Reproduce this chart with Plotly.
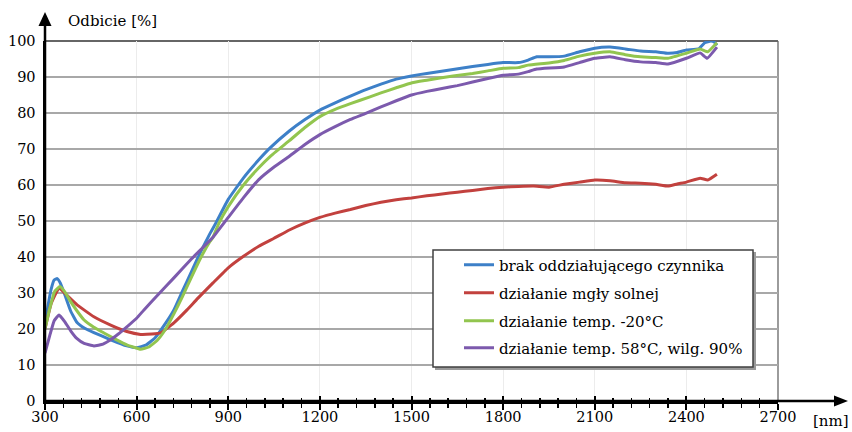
import plotly.graph_objects as go

# ---------------- data ----------------
x_brak = [300, 310, 320, 330, 340, 350, 362, 384, 405, 430, 460, 515, 568, 600, 630, 660, 690,
          722, 750, 780, 810, 840, 860, 900, 950, 1000, 1037, 1100, 1150, 1200, 1250, 1300, 1342,
          1400, 1450, 1500, 1550, 1636, 1700, 1750, 1800, 1850, 1882, 1910, 1950, 2000, 2050,
          2100, 2150, 2200, 2250, 2300, 2340, 2370, 2400, 2440, 2460, 2480, 2490, 2500]
y_brak = [21, 26.5, 31, 33.6, 34, 32.8, 30.2, 25, 21.8, 20.2, 19, 17, 15.3, 14.8, 15.5, 17.5, 21,
          25.3, 30.5, 36, 41.5, 46.5, 49.5, 56, 62, 67, 70.3, 75, 78.1, 80.8, 82.8, 84.7, 86.2,
          88, 89.4, 90.3, 91, 92.1, 92.9, 93.5, 94, 94, 94.7, 95.6, 95.6, 95.8, 97,
          98, 98.3, 97.8, 97.2, 97, 96.6, 96.8, 97.5, 97.8, 99.5, 100, 99.8, 98.8]

x_mgla = [300, 320, 346, 370, 405, 460, 515, 568, 613, 650, 679, 722, 765, 800, 850, 900, 950,
          1000, 1050, 1100, 1150, 1200, 1250, 1300, 1350, 1400, 1450, 1500, 1550, 1600, 1650, 1700,
          1750, 1800, 1850, 1900, 1950, 2000, 2050, 2100, 2150, 2200, 2250, 2300, 2340, 2370, 2400,
          2445, 2470, 2500]
y_mgla = [20, 27, 31.4, 29.5, 26.7, 23.4, 21.1, 19.3, 18.5, 18.6, 18.9, 21.7, 25.3, 28.5, 32.8, 37, 40.2,
          43, 45.2, 47.5, 49.4, 51, 52.2, 53.2, 54.3, 55.2, 55.9, 56.4, 57, 57.5, 58, 58.5,
          59, 59.4, 59.6, 59.7, 59.4, 60.2, 60.8, 61.4, 61.2, 60.6, 60.5, 60.2, 59.7, 60.3, 60.8,
          61.9, 61.4, 63]

x_minus20 = [300, 315, 332, 349, 365, 384, 405, 428, 460, 493, 530, 568, 613, 640, 667, 695, 722,
             750, 780, 810, 840, 850, 870, 900, 950, 1000, 1037, 1100, 1150, 1200, 1250, 1300, 1364,
             1400, 1450, 1502, 1550, 1636, 1700, 1750, 1800, 1850, 1882, 1950, 2000, 2050,
             2100, 2150, 2200, 2250, 2300, 2340, 2400, 2445, 2470, 2500]
y_minus20 = [20, 25.5, 30.5, 31.8, 30.3, 27.6, 25, 22.5, 20.5, 18.9, 17.2, 15.6, 14.4, 15, 16.8, 20, 24.2,
             29, 34.5, 39.8, 44.3, 45.5, 49.5, 54, 60, 64.8, 67.9, 72.3, 75.9, 79, 81, 82.6, 84.5,
             85.6, 87, 88.4, 89.1, 90.3, 91, 91.7, 92.4, 92.6, 93.3, 93.9, 94.6, 95.8,
             96.6, 97, 96.2, 95.6, 95.4, 95.2, 96.6, 97.8, 97, 99.5]

x_58 = [300, 315, 330, 346, 365, 384, 405, 428, 460, 490, 515, 540, 568, 600, 624, 670, 722, 780,
        850, 900, 950, 1000, 1050, 1100, 1150, 1200, 1250, 1300, 1350, 1400, 1450, 1500, 1550, 1600,
        1650, 1700, 1750, 1800, 1850, 1882, 1910, 2000, 2050, 2100, 2150, 2200, 2250, 2300, 2340,
        2400, 2445, 2468, 2500]
y_58 = [13.3, 18, 22.3, 23.9, 22, 19.5, 17.3, 16, 15.3, 15.8, 17, 18.6, 20.6, 23, 25.3, 29.5, 34.2, 39.5,
        45.5, 51, 56.5, 61.5, 65, 68, 71.2, 74, 76.2, 78.2, 79.9, 81.7, 83.4, 85, 86, 86.8,
        87.6, 88.6, 89.6, 90.5, 90.8, 91.5, 92.2, 92.8, 94, 95.2, 95.6, 94.8, 94.2, 94, 93.6,
        95.2, 96.7, 95.2, 98.3]

series_names = ["brak oddziałującego czynnika", "działanie mgły solnej",
                "działanie temp. -20°C", "działanie temp. 58°C, wilg. 90%"]
series_colors = ["#3d80c8", "#c2413e", "#92c54f", "#7c5aad"]
x_ticks = [300, 600, 900, 1200, 1500, 1800, 2100, 2400, 2700]
y_ticks = [0, 10, 20, 30, 40, 50, 60, 70, 80, 90, 100]

FONT = "DejaVu Serif"

# ---------------- layout geometry helpers (pixels -> paper) ----------------
L, T, W, H = 45, 41, 733, 360


def px(p):
    return (p - L) / W


def py(p):
    return (T + H - p) / H


fig = go.Figure()
xs = [x_brak, x_mgla, x_minus20, x_58]
ys = [y_brak, y_mgla, y_minus20, y_58]
legend_ids = ["legend", "legend2", "legend3", "legend4"]
for xv, yv, name, col, lg in zip(xs, ys, series_names, series_colors, legend_ids):
    fig.add_trace(go.Scatter(x=xv, y=yv, name=name, mode="lines",
                             line=dict(color=col, width=3, shape="spline", smoothing=0.35),
                             legend=lg, hoverinfo="skip"))

# dummy trace for the overlaid tick axis
fig.add_trace(go.Scatter(x=[300], y=[0], xaxis="x2", mode="markers",
                         marker=dict(opacity=0), showlegend=False, hoverinfo="skip"))

shapes = []
shapes.append(dict(type="rect", xref="paper", yref="paper", layer="above",
                   x0=px(435), x1=px(756), y0=py(370), y1=py(252),
                   fillcolor="#9a9a9a", line=dict(width=0)))
shapes.append(dict(type="rect", xref="paper", yref="paper", layer="above",
                   x0=px(433), x1=px(753), y0=py(367), y1=py(250),
                   fillcolor="white", line=dict(color="#404040", width=1.5)))
shapes.append(dict(type="line", xref="paper", yref="paper", layer="below",
                   x0=0, x1=1, y0=1, y1=1, line=dict(color="#333333", width=1.5)))
shapes.append(dict(type="line", xref="paper", yref="paper", layer="below",
                   x0=1, x1=1, y0=0, y1=1, line=dict(color="#666666", width=1.3)))
shapes.append(dict(type="line", xref="paper", yref="paper", layer="above",
                   x0=0, x1=px(838), y0=0, y1=0, line=dict(color="black", width=2.5)))
shapes.append(dict(type="path", xref="paper", yref="paper", layer="above",
                   path=f"M{px(848)},{py(401)} L{px(834)},{py(395.5)} L{px(834)},{py(406.5)} Z",
                   fillcolor="black", line=dict(width=0)))
shapes.append(dict(type="line", xref="paper", yref="paper", layer="above",
                   x0=0, x1=0, y0=0, y1=py(24), line=dict(color="black", width=2.5)))
shapes.append(dict(type="path", xref="paper", yref="paper", layer="above",
                   path=f"M{px(45)},{py(12)} L{px(38.5)},{py(26)} L{px(51.5)},{py(26)} Z",
                   fillcolor="black", line=dict(width=0)))

annotations = [
    dict(text="Odbicie [%]", xref="paper", yref="paper", x=px(66), y=py(21),
         xanchor="left", yanchor="middle", showarrow=False,
         font=dict(family=FONT, size=15, color="black")),
    dict(text="[nm]", xref="paper", yref="paper", x=px(831), y=py(421),
         xanchor="center", yanchor="middle", showarrow=False,
         font=dict(family=FONT, size=15, color="black")),
]

legend_rows = [265, 293, 321, 348]
leg_common = dict(xanchor="left", yanchor="middle", bgcolor="rgba(0,0,0,0)", borderwidth=0,
                  font=dict(family=FONT, size=15, color="black"), itemwidth=30,
                  itemclick=False, itemdoubleclick=False)
legends = {}
for lg, row in zip(legend_ids, legend_rows):
    legends[lg] = dict(x=px(459), y=py(row), **leg_common)

fig.update_layout(
    width=852, height=432,
    margin=dict(l=L, r=852 - L - W, t=T, b=432 - T - H, autoexpand=False),
    paper_bgcolor="white", plot_bgcolor="white",
    font=dict(family=FONT, size=14, color="black"),
    xaxis=dict(range=[300, 2700], tickvals=x_ticks, ticktext=[str(v) for v in x_ticks],
               showgrid=True, gridcolor="#ececec", gridwidth=1, automargin=False,
               showline=True, linecolor="black", linewidth=2.5,
               ticks="outside", ticklen=6, tickwidth=2, tickcolor="black",
               ticklabelstandoff=-5,
               minor=dict(dtick=60, tick0=300, ticks="outside", ticklen=4, tickwidth=1.5,
                          tickcolor="black", showgrid=False),
               zeroline=False, fixedrange=True,
               tickfont=dict(family=FONT, size=14.5, color="black")),
    xaxis2=dict(range=[300, 2700], overlaying="x", anchor="y", side="bottom",
                tickvals=x_ticks, showticklabels=False, showgrid=False, showline=False,
                ticks="inside", ticklen=5, tickwidth=2, tickcolor="black", automargin=False,
                minor=dict(dtick=60, tick0=300, ticks="inside", ticklen=3, tickwidth=1.5,
                           tickcolor="black", showgrid=False),
                zeroline=False, fixedrange=True),
    yaxis=dict(range=[0, 100], tickvals=y_ticks, showgrid=True, gridcolor="#a8a8a8", gridwidth=1.5,
               showline=True, linecolor="black", linewidth=2.5, ticks="", automargin=False,
               ticklabelstandoff=4, zeroline=False, fixedrange=True,
               tickfont=dict(family=FONT, size=14.5, color="black")),
    shapes=shapes, annotations=annotations,
    **legends,
)

fig.write_html("out.html", config={"displayModeBar": False, "staticPlot": True},
               post_script="document.body.style.margin='0';")
